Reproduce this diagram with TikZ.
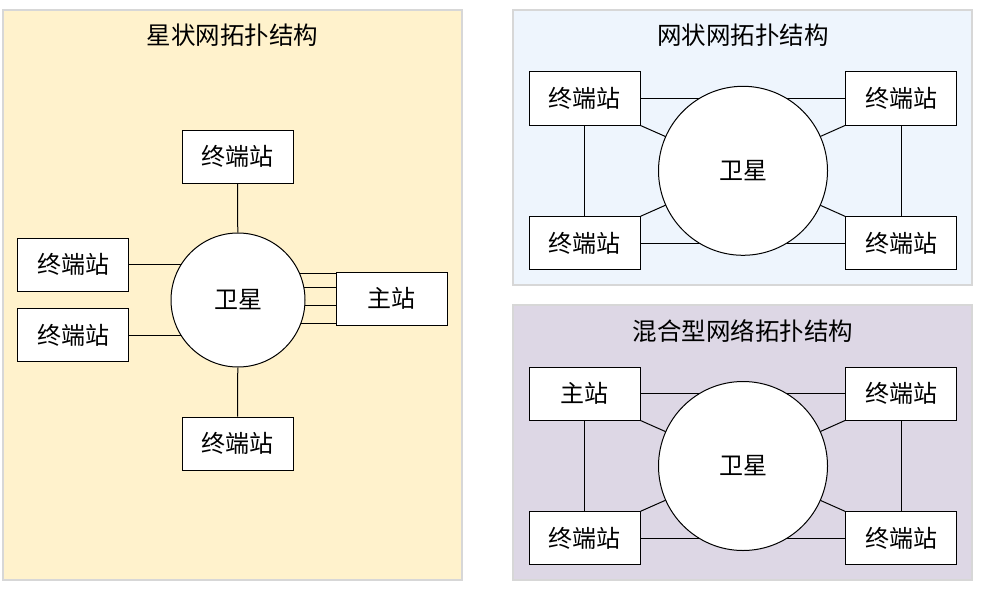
\documentclass[tikz,border=0pt]{standalone}
\usepackage{fontspec}
\newfontfamily\cjk{Noto Sans CJK SC}
\usetikzlibrary{calc}
\pgfdeclarelayer{back}
\pgfdeclarelayer{mid}
\pgfsetlayers{back,mid,main}
\definecolor{starbg}{RGB}{255,242,204}
\definecolor{meshbg}{RGB}{238,245,253}
\definecolor{hybbg}{RGB}{221,215,229}
\definecolor{panelline}{RGB}{215,215,215}
\tikzset{
  panel/.style={draw=panelline, line width=1.2pt},
  stationbox/.style={draw=black, fill=white, line width=1pt, minimum width=111pt, minimum height=53pt, inner sep=0pt, font=\cjk\fontsize{24}{28}\selectfont},
  satnode/.style={draw=black, fill=white, circle, line width=1pt, inner sep=0pt, font=\cjk\fontsize{24}{28}\selectfont},
  titletext/.style={font=\cjk\fontsize{24.5}{28}\selectfont, inner sep=0pt},
  link/.style={draw=black, line width=1pt},
}
\begin{document}
\begin{tikzpicture}[x=1pt,y=-1pt]
\useasboundingbox (0,0) rectangle (981,591);
\begin{pgfonlayer}{back}
\fill[white] (0,0) rectangle (981,591);
\path[panel, fill=starbg] (3,10) rectangle (462,580);
\path[panel, fill=meshbg] (513,10) rectangle (972,285);
\path[panel, fill=hybbg] (513,305) rectangle (972,580);
\end{pgfonlayer}
% titles
\node[titletext] (t1) at (232.5,35) {星状网拓扑结构};
\node[titletext] (t2) at (743,35) {网状网拓扑结构};
\node[titletext] (t3) at (743,331) {混合型网络拓扑结构};
% star
\node[satnode, minimum size=134pt] (ssat) at (238,300) {卫星};
\node[stationbox] (stop) at (237.5,156.5) {终端站};
\node[stationbox] (sbot) at (237.5,443.5) {终端站};
\node[stationbox] (sl1) at (73,264.5) {终端站};
\node[stationbox] (sl2) at (73,335) {终端站};
\node[stationbox] (smain) at (391.5,298.5) {主站};
\begin{pgfonlayer}{mid}
\draw[link] (stop) -- (ssat);
\draw[link] (sbot) -- (ssat);
\draw[link] (sl1.east) -- (sl1.east -| ssat.center);
\draw[link] (sl2.east) -- (sl2.east -| ssat.center);
\foreach \dy in {-25.2,-10.8,6.5,24.8}
  \draw[link] ([yshift=-\dy pt]smain.west) -- ([yshift=-\dy pt]smain.west -| ssat.center);
\end{pgfonlayer}
% mesh
\node[satnode, minimum size=169pt] (msat) at (743,170.8) {卫星};
\node[stationbox] (mtl) at (584.5,98.5) {终端站};
\node[stationbox] (mbl) at (584.5,243.3) {终端站};
\node[stationbox] (mtr) at (901,98.5) {终端站};
\node[stationbox] (mbr) at (901,243.3) {终端站};
\begin{pgfonlayer}{mid}
\draw[link] (mtl) -- (mbl);
\draw[link] (mtr) -- (mbr);
\foreach \n in {mtl,mbl,mtr,mbr}
  \draw[link] (\n.center) -- (\n.center -| msat.center);
\draw[link] (mtl.south east) -- (msat.center);
\draw[link] (mbl.north east) -- (msat.center);
\draw[link] (mtr.south west) -- (msat.center);
\draw[link] (mbr.north west) -- (msat.center);
\end{pgfonlayer}
% hybrid
\node[satnode, minimum size=169pt] (hsat) at (743,466) {卫星};
\node[stationbox] (htl) at (584.5,393.5) {主站};
\node[stationbox] (hbl) at (584.5,538.3) {终端站};
\node[stationbox] (htr) at (901,393.5) {终端站};
\node[stationbox] (hbr) at (901,538.3) {终端站};
\begin{pgfonlayer}{mid}
\draw[link] (htl) -- (hbl);
\draw[link] (htr) -- (hbr);
\foreach \n in {htl,hbl,htr,hbr}
  \draw[link] (\n.center) -- (\n.center -| hsat.center);
\draw[link] (htl.south east) -- (hsat.center);
\draw[link] (hbl.north east) -- (hsat.center);
\draw[link] (htr.south west) -- (hsat.center);
\draw[link] (hbr.north west) -- (hsat.center);
\end{pgfonlayer}
\end{tikzpicture}
\end{document}
